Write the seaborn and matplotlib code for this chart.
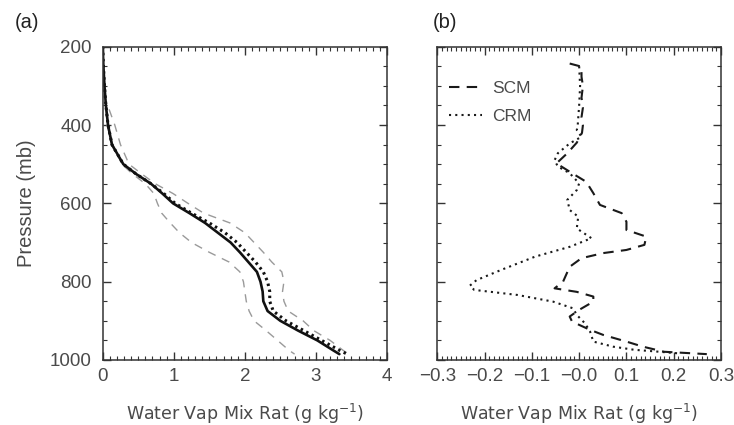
import numpy as np
import pandas as pd
import matplotlib
matplotlib.use("Agg")
import matplotlib.pyplot as plt
from matplotlib.ticker import MultipleLocator, FixedLocator
import seaborn as sns

# ---------------- panel (a): mean profiles ----------------
p_a = [200, 250, 300, 350, 400, 450, 500, 525, 550, 575, 600, 625, 650, 675,
       700, 725, 750, 775, 800, 825, 850, 875, 900, 925, 950, 975, 985]
qv_obs = [0.0, 0.01, 0.025, 0.045, 0.075, 0.13, 0.29, 0.47, 0.68, 0.84, 0.99,
          1.22, 1.44, 1.62, 1.80, 1.93, 2.05, 2.17, 2.22, 2.25, 2.26, 2.32,
          2.50, 2.75, 3.02, 3.24, 3.33]
qv_crm = [0.0, 0.01, 0.025, 0.045, 0.075, 0.13, 0.29, 0.47, 0.68, 0.86, 1.02,
          1.25, 1.50, 1.72, 1.89, 2.02, 2.15, 2.26, 2.32, 2.35, 2.35, 2.40,
          2.58, 2.83, 3.08, 3.33, 3.44]

p_env = [360, 400, 450, 500, 525, 550, 575, 600, 625, 650, 675, 700, 725,
         750, 775, 800, 825, 850, 875, 900, 925, 950, 975, 985]
qv_hi = [0.09, 0.17, 0.25, 0.37, 0.55, 0.74, 0.99, 1.20, 1.42, 1.79, 2.00,
         2.13, 2.26, 2.38, 2.52, 2.55, 2.53, 2.55, 2.61, 2.82, 2.97, 3.20,
         3.38, 3.46]
qv_lo = [0.05, 0.06, 0.14, 0.27, 0.42, 0.60, 0.72, 0.77, 0.83, 0.95, 1.08,
         1.25, 1.50, 1.78, 1.93, 1.98, 2.00, 2.02, 2.06, 2.13, 2.30, 2.46,
         2.62, 2.70]

# ---------------- panel (b): model minus observation ----------------
p_scm = [243, 251, 277, 300, 330, 355, 380, 400, 420, 445, 472, 498, 523, 545,
         574, 604, 625, 647, 668, 685, 706, 719, 727, 740, 762, 800, 817, 826,
         838, 851, 872, 889, 902, 923, 936, 953, 966, 979, 983, 985]
d_scm = [-0.02, 0.005, 0.005, 0.008, 0.005, 0.008, 0.005, 0.008, 0.006, -0.005,
         -0.025, -0.048, -0.015, 0.015, 0.03, 0.044, 0.09, 0.10, 0.10, 0.142,
         0.138, 0.10, 0.051, 0.005, -0.02, -0.034, -0.052, -0.005, 0.03, 0.03,
         0.0, -0.02, -0.015, 0.023, 0.051, 0.10, 0.135, 0.18, 0.24, 0.27]

p_crm = [250, 300, 350, 400, 413, 430, 447, 472, 490, 506, 523, 549, 566, 591,
         617, 634, 664, 689, 711, 736, 770, 796, 810, 821, 834, 851, 868, 885,
         906, 927, 953, 966, 974, 978, 983]
d_crm = [0.0, 0.002, 0.0, -0.003, -0.005, 0.005, -0.02, -0.045, -0.052, -0.045,
         -0.02, 0.0, -0.005, -0.025, -0.02, -0.002, -0.005, 0.026, -0.02,
         -0.093, -0.165, -0.217, -0.231, -0.222, -0.13, -0.055, -0.013, -0.005,
         0.012, 0.023, 0.03, 0.072, 0.117, 0.16, 0.21]

xticks_b = [-0.3, -0.2, -0.1, 0.0, 0.1, 0.2, 0.3]
xticklabels_b = ["\u22120.3", "\u22120.2", "\u22120.1", "\u22120.0", "0.1", "0.2", "0.3"]

sns.set_style("ticks")
plt.rcParams["font.family"] = ["Liberation Sans", "DejaVu Sans"]
plt.rcParams.update({
    "axes.linewidth": 1.1,
    "axes.edgecolor": "#333333",
    "xtick.minor.visible": True,
    "ytick.minor.visible": True,
    "xtick.minor.size": 3,
    "ytick.minor.size": 3,
    "xtick.minor.width": 0.8,
    "ytick.minor.width": 0.8,
    "xtick.major.size": 6,
    "ytick.major.size": 6,
    "xtick.direction": "in",
    "ytick.direction": "in",
})

TXT = "#4a4a4a"
fig = plt.figure(figsize=(7.34, 4.25), dpi=100)
W, H = 734.0, 425.0
ax1 = fig.add_axes([102.7 / W, 1 - 360 / H, (387 - 102.7) / W, (360 - 46.7) / H])
ax2 = fig.add_axes([437.3 / W, 1 - 360 / H, (721 - 437.3) / W, (360 - 46.7) / H])


def draw(ax, x, y, **kw):
    df = pd.DataFrame({"x": x, "y": y})
    sns.lineplot(data=df, x="x", y="y", sort=False, estimator=None, ax=ax, **kw)


# panel (a)
draw(ax1, qv_lo, p_env, color="#9a9a9a", lw=1.0, linestyle=(0, (6, 5)))
draw(ax1, qv_hi, p_env, color="#9a9a9a", lw=1.0, linestyle=(0, (6, 5)))
draw(ax1, qv_crm, p_a, color="#111111", lw=2.2, linestyle=(0, (0.8, 1.2)))
draw(ax1, qv_obs, p_a, color="#111111", lw=1.9, linestyle="-")

# panel (b)
draw(ax2, d_scm, p_scm, color="#1a1a1a", lw=1.5, linestyle=(0, (5, 3.5)), label="SCM")
draw(ax2, d_crm, p_crm, color="#1a1a1a", lw=1.5, linestyle=(0, (1, 2)), label="CRM")

ax1.set_xlim(0, 4)
ax1.xaxis.set_major_locator(FixedLocator([0, 1, 2, 3, 4]))
ax1.xaxis.set_minor_locator(MultipleLocator(0.1))

ax2.set_xlim(-0.3, 0.3)
ax2.xaxis.set_major_locator(FixedLocator(xticks_b))
ax2.set_xticklabels(xticklabels_b)
ax2.xaxis.set_minor_locator(MultipleLocator(0.01))

for ax in (ax1, ax2):
    ax.set_ylim(1000, 200)
    ax.yaxis.set_major_locator(FixedLocator([200, 400, 600, 800, 1000]))
    ax.yaxis.set_minor_locator(MultipleLocator(50))
    ax.tick_params(which="both", direction="in", top=True, right=True,
                   bottom=True, left=True, colors="#333333", labelcolor=TXT,
                   labelsize=13.5)
    ax.tick_params(which="major", length=6, width=1.0)
    ax.tick_params(which="minor", length=3, width=0.8)
    ax.tick_params(axis="y", which="major", pad=8)
    ax.tick_params(axis="x", which="major", pad=6)
    ax.set_xlabel("Water Vap Mix Rat (g kg$^{-1}$)", fontsize=12.5, color=TXT,
                  family="DejaVu Sans", labelpad=12)
    ax.set_ylabel("")

ax1.set_ylabel("Pressure (mb)", fontsize=14.5, color=TXT, labelpad=10)
ax2.set_yticklabels([])

leg = ax2.legend(handles=ax2.lines[:2], labels=["SCM", "CRM"], loc="upper left",
                 bbox_to_anchor=(0.04, 0.89), frameon=False, fontsize=12.5,
                 handlelength=1.9, handletextpad=0.6, labelspacing=0.75,
                 borderaxespad=0, borderpad=0)
for t in leg.get_texts():
    t.set_color(TXT)

fig.text(15 / W, 1 - 22 / H, "(a)", fontsize=14.5, color="#222222", va="center", ha="left")
fig.text(433 / W, 1 - 22 / H, "(b)", fontsize=14.5, color="#222222", va="center", ha="left")

fig.savefig("out.png", dpi=100, facecolor="white")
